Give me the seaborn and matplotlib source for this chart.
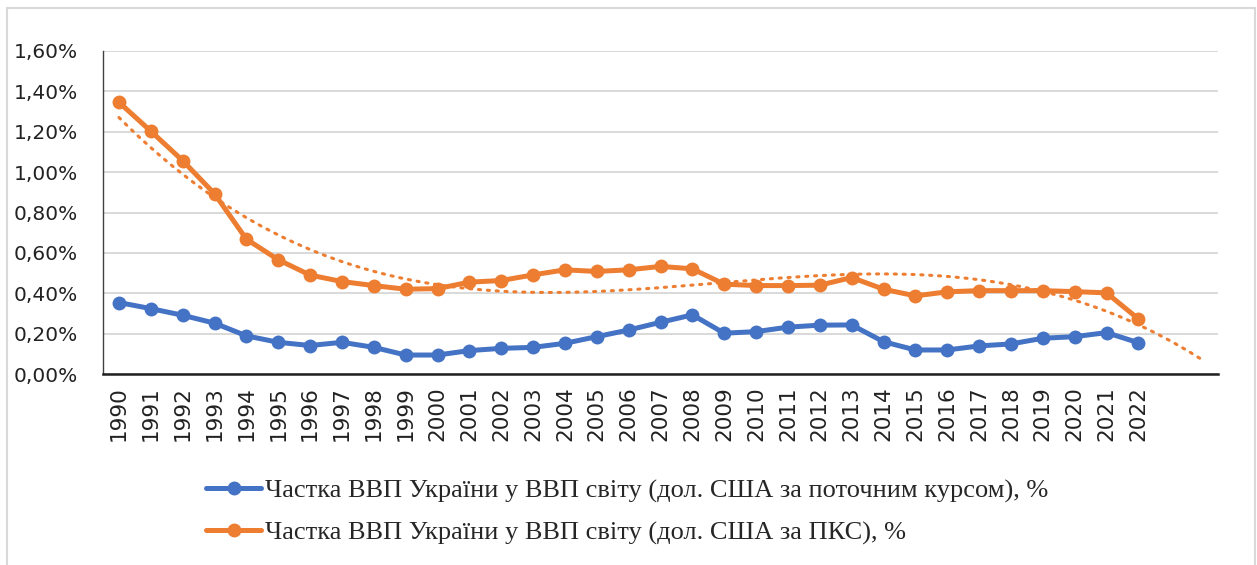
import numpy as np
import pandas as pd
import matplotlib
matplotlib.use("Agg")
import matplotlib.pyplot as plt
import seaborn as sns
from matplotlib.patches import Rectangle

years = list(range(1990, 2023))
share_current = [0.354, 0.324, 0.291, 0.252, 0.189, 0.157, 0.141, 0.157, 0.132, 0.094,
                 0.094, 0.116, 0.127, 0.132, 0.152, 0.185, 0.218, 0.256, 0.293, 0.202,
                 0.210, 0.232, 0.242, 0.243, 0.160, 0.119, 0.119, 0.139, 0.149, 0.177,
                 0.185, 0.205, 0.155]
share_ppp = [1.346, 1.203, 1.057, 0.893, 0.668, 0.566, 0.490, 0.458, 0.438, 0.420,
             0.423, 0.455, 0.463, 0.491, 0.516, 0.508, 0.516, 0.533, 0.521, 0.445,
             0.438, 0.438, 0.440, 0.478, 0.420, 0.387, 0.407, 0.413, 0.413, 0.413,
             0.408, 0.402, 0.273]
yticks = [0.0, 0.2, 0.4, 0.6, 0.8, 1.0, 1.2, 1.4, 1.6]
label_current = "Частка ВВП України у ВВП світу (дол. США за поточним курсом), %"
label_ppp = "Частка ВВП України у ВВП світу (дол. США за ПКС), %"

BLUE = "#4472C4"
ORANGE = "#ED7D31"

sns.set_theme(style="white")
plt.rcParams['font.family'] = ['DejaVu Sans']

W, H = 1257, 565
fig = plt.figure(figsize=(W / 100, H / 100), dpi=100)
ax = fig.add_axes([103 / W, 1 - 374 / H, (1218 - 103) / W, (374 - 51) / H])

idx = np.arange(len(years))
df = pd.DataFrame({"idx": np.concatenate([idx, idx]),
                   "value": share_current + share_ppp,
                   "series": [label_current] * len(years) + [label_ppp] * len(years)})

sns.lineplot(data=df, x="idx", y="value", hue="series",
             palette=[BLUE, ORANGE], marker="o", markersize=10,
             markeredgewidth=0, linewidth=3.6, ax=ax, legend=False, zorder=3)

# polynomial (order 3) trendline for PPP share, forecast forward 2 periods
xs = np.linspace(0, len(years) + 1, 300)
coef = np.polyfit(idx, share_ppp, 3)
ax.plot(xs, np.polyval(coef, xs), color=ORANGE, lw=2.2,
        linestyle=(0, (0.7, 2.2)), dash_capstyle="round", zorder=2)

ax.set_xlim(-0.5, len(years) + 1.5)
ax.set_ylim(0, 1.6)
ax.set_yticks(yticks)
ax.set_yticklabels([f"{v:.2f}%".replace(".", ",") for v in yticks], fontsize=14.5, color="#222222")
ax.set_xticks(idx)
ax.set_xticklabels([str(y) for y in years], rotation=90, fontsize=15.5, color="#222222")
ax.tick_params(axis="x", length=0, pad=9)
ax.tick_params(axis="y", length=0, pad=18)
ax.set_xlabel("")
ax.set_ylabel("")
ax.grid(axis="y", color="#D9D9D9", lw=1.4)
ax.grid(axis="x", visible=False)
for s in ["top", "right"]:
    ax.spines[s].set_visible(False)
ax.spines["left"].set_color("#404040")
ax.spines["left"].set_linewidth(1.0)
ax.spines["bottom"].set_color("#202020")
ax.spines["bottom"].set_linewidth(1.8)
ax.set_axisbelow(True)

lines = ax.get_lines()[:2]
leg = fig.legend(lines, [label_current, label_ppp], loc="upper left",
                 bbox_to_anchor=(206 / W, 1 - 479 / H), frameon=False,
                 prop={"family": "Liberation Serif", "size": 19},
                 handlelength=2.1, handletextpad=0.15, labelspacing=0.68,
                 borderpad=0, borderaxespad=0)

fig.add_artist(Rectangle((7 / W, -0.02), (1255 - 7) / W, (565 - 8) / H + 0.02,
                         transform=fig.transFigure, fill=False, ec="#D9D9D9", lw=1.5))

fig.savefig("out.png", dpi=100)
